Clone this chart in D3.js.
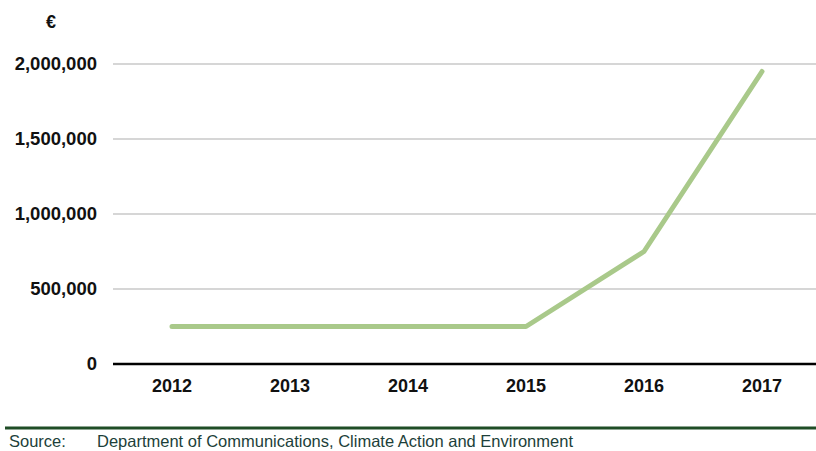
<!DOCTYPE html>
<html><head><meta charset="utf-8">
<script src="https://cdn.jsdelivr.net/npm/d3@7"></script>
<style>body{margin:0;background:#fff}svg{display:block}</style>
</head><body>
<svg id="c" width="816" height="451"></svg>
<script>
const years = ["2012","2013","2014","2015","2016","2017"];
const values = [250000, 250000, 250000, 250000, 750000, 1950000];
const yTicks = [0, 500000, 1000000, 1500000, 2000000];
const unitLabel = "€";
const sourceLabel = "Source:";
const sourceText = "Department of Communications, Climate Action and Environment";

const svg = d3.select("#c");
const x = d3.scalePoint().domain(years).range([113, 821]).padding(0.5);
const y = d3.scaleLinear().domain([0, 2000000]).range([364, 64]);
const fmt = d3.format(",");
const font = "Arial, 'Liberation Sans', sans-serif";

// gridlines
svg.append("g").selectAll("line").data(yTicks.filter(d => d > 0)).join("line")
  .attr("x1", 113).attr("x2", 816)
  .attr("y1", d => y(d)).attr("y2", d => y(d))
  .attr("stroke", "#c8c8c8").attr("stroke-width", 1.3);

// y labels
svg.append("g").selectAll("text").data(yTicks).join("text")
  .attr("x", 97).attr("y", d => y(d)).attr("dy", "0.35em")
  .attr("text-anchor", "end").attr("font-family", font)
  .attr("font-size", 18.5).attr("font-weight", "bold").attr("fill", "#111")
  .text(d => fmt(d));

svg.append("text").attr("x", 51).attr("y", 22).attr("dy", "0.35em")
  .attr("text-anchor", "middle").attr("font-family", font)
  .attr("font-size", 18).attr("font-weight", "bold").attr("fill", "#111").text(unitLabel);

// x axis
svg.append("line").attr("x1", 113).attr("x2", 816).attr("y1", y(0)).attr("y2", y(0))
  .attr("stroke", "#000").attr("stroke-width", 2.5);
svg.append("g").selectAll("text").data(years).join("text")
  .attr("x", d => x(d)).attr("y", 386).attr("dy", "0.35em")
  .attr("text-anchor", "middle").attr("font-family", font)
  .attr("font-size", 18).attr("font-weight", "bold").attr("fill", "#111")
  .text(d => d);

// line
const line = d3.line().x((d, i) => x(years[i])).y(d => y(d));
svg.append("path").datum(values).attr("d", line)
  .attr("fill", "none").attr("stroke", "#a9c98a").attr("stroke-width", 5)
  .attr("stroke-linecap", "round").attr("stroke-linejoin", "round");

// source rule
svg.append("line").attr("x1", 5).attr("x2", 816).attr("y1", 428).attr("y2", 428)
  .attr("stroke", "#1f4d26").attr("stroke-width", 3);
svg.append("text").attr("x", 9).attr("y", 441).attr("dy", "0.35em")
  .attr("font-family", font).attr("font-size", 16.5).attr("fill", "#1d3f3a").text(sourceLabel);
svg.append("text").attr("x", 97).attr("y", 441).attr("dy", "0.35em")
  .attr("font-family", font).attr("font-size", 16.5).attr("fill", "#1d3f3a").text(sourceText);
</script>
</body></html>
